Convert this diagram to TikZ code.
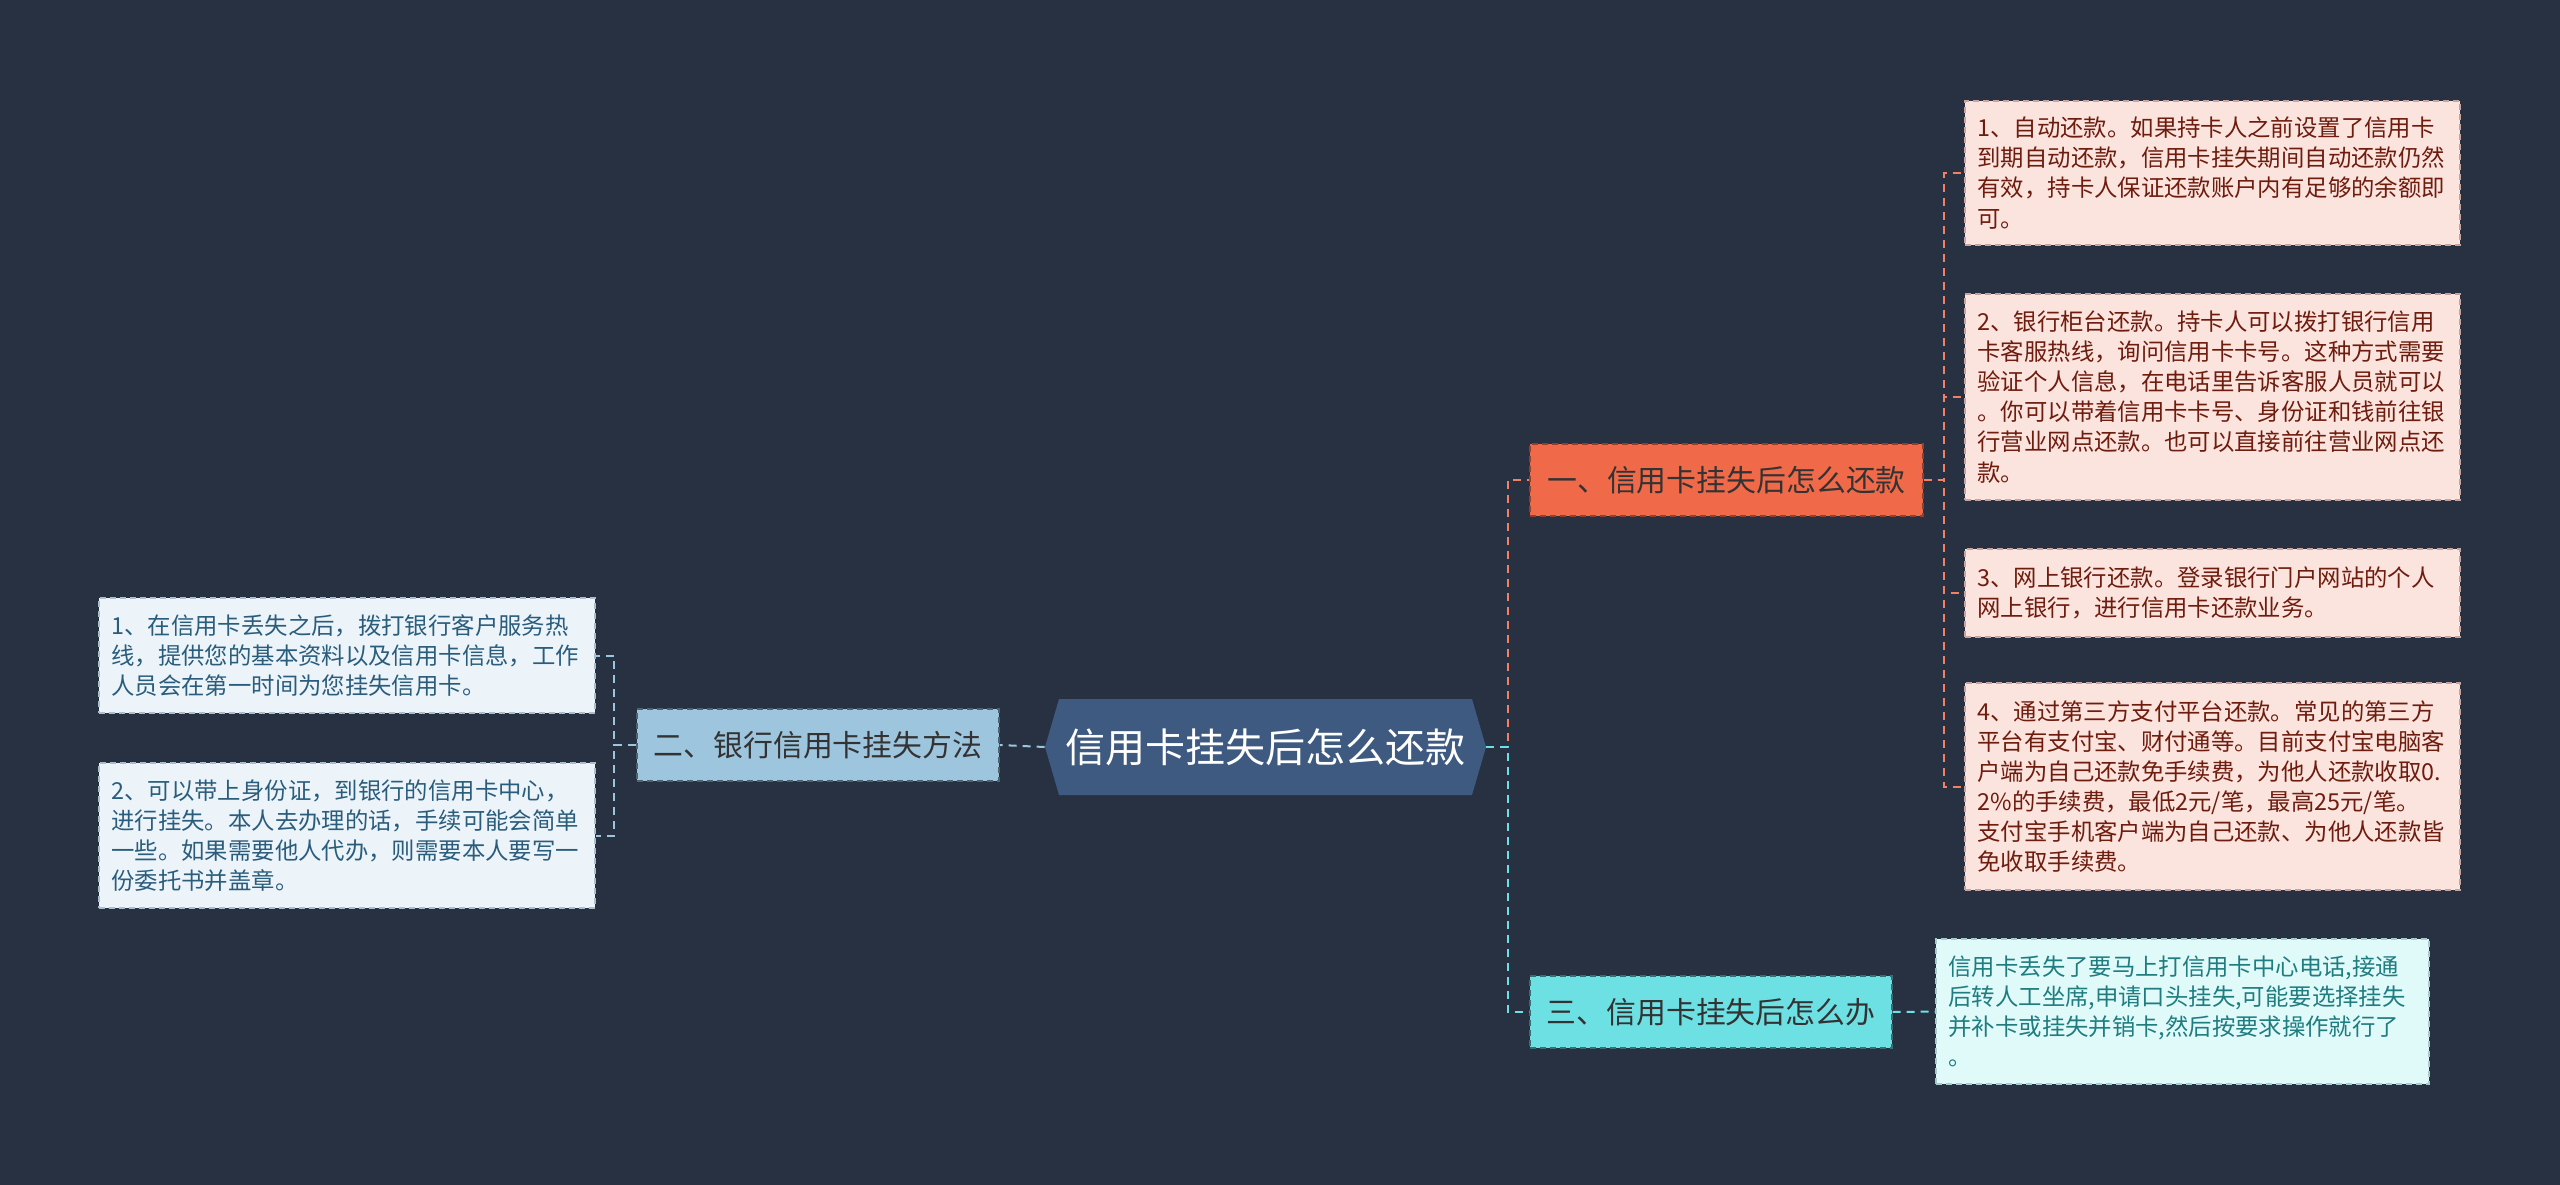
\documentclass[tikz,border=0pt]{standalone}
\usepackage{fontspec}
\setmainfont{Noto Sans CJK SC}
\usetikzlibrary{positioning}
\definecolor{bgcol}{RGB}{40,49,66}
\definecolor{hubcol}{RGB}{62,90,128}
\definecolor{paycol}{RGB}{240,106,74}
\definecolor{lostcol}{RGB}{158,197,222}
\definecolor{whatcol}{RGB}{109,224,228}
\definecolor{payleaf}{RGB}{252,228,222}
\definecolor{lostleaf}{RGB}{236,244,250}
\definecolor{whatleaf}{RGB}{224,250,250}
\definecolor{paytext}{RGB}{110,28,14}
\definecolor{losttext}{RGB}{42,93,124}
\definecolor{whattext}{RGB}{31,125,128}
\newcommand\leaffont{\fontsize{13.3}{17.1}\selectfont}
\newcommand\branchfont{\fontsize{17}{20}\selectfont}
\newcommand\hubfont{\fontsize{22.8}{26}\selectfont}

\begin{document}
\begin{tikzpicture}[x=0.2mm,y=-0.2mm,
  box/.style={draw=#1,line width=0.25mm,dash pattern=on 1.2mm off 0.8mm,inner sep=0pt},
  leaf/.style={box=#1,align=left,inner xsep=2.5mm,font=\leaffont},
  branch/.style={box=#1,minimum height=14.4mm,font=\branchfont},
  link/.style={draw=#1,line width=0.4mm,dash pattern=on 1.6mm off 1.2mm}]
\fill[bgcol] (0,0) rectangle (2560,1185);
\useasboundingbox (0,0) rectangle (2560,1185);

% centre
\fill[hubcol] (1045,747) -- (1059,699) -- (1472,699) -- (1486,747) -- (1472,795) -- (1059,795) -- cycle;
\node[font=\hubfont,text=white,minimum width=88.2mm,minimum height=19.2mm] (hub) at (1265.5,747) {信用卡挂失后怎么还款};

% branches
\node[branch=paycol!60!black,fill=paycol,text=black!80,minimum width=78.6mm] (pay) at (1726.5,480) {一、信用卡挂失后怎么还款};
\node[branch=lostcol!50!black,fill=lostcol,text=black!80,minimum width=72.4mm] (lost) at (818,745) {二、银行信用卡挂失方法};
\node[branch=whatcol!50!black,fill=whatcol,text=black!80,minimum width=72.4mm] (what) at (1711,1012) {三、信用卡挂失后怎么办};

% leaves of pay
\node[leaf=paytext!40,fill=payleaf,text=paytext,text width=94mm,minimum height=28.8mm] (pay1) at (2212.5,173)
  {1、自动还款。如果持卡人之前设置了信用卡\\到期自动还款，信用卡挂失期间自动还款仍然\\有效，持卡人保证还款账户内有足够的余额即\\可。};
\node[leaf=paytext!40,fill=payleaf,text=paytext,text width=94mm,minimum height=41.2mm] (pay2) at (2212.5,397)
  {2、银行柜台还款。持卡人可以拨打银行信用\\卡客服热线，询问信用卡卡号。这种方式需要\\验证个人信息，在电话里告诉客服人员就可以\\。你可以带着信用卡卡号、身份证和钱前往银\\行营业网点还款。也可以直接前往营业网点还\\款。};
\node[leaf=paytext!40,fill=payleaf,text=paytext,text width=94mm,minimum height=17.6mm] (pay3) at (2212.5,593)
  {3、网上银行还款。登录银行门户网站的个人\\网上银行，进行信用卡还款业务。};
\node[leaf=paytext!40,fill=payleaf,text=paytext,text width=94mm,minimum height=41.4mm] (pay4) at (2212.5,786.5)
  {4、通过第三方支付平台还款。常见的第三方\\平台有支付宝、财付通等。目前支付宝电脑客\\户端为自己还款免手续费，为他人还款收取0.\\2\%的手续费，最低2元/笔，最高25元/笔。\\支付宝手机客户端为自己还款、为他人还款皆\\免收取手续费。};

% leaves of lost
\node[leaf=losttext!40,fill=lostleaf,text=losttext,text width=94.2mm,minimum height=23mm] (lost1) at (347,655.5)
  {1、在信用卡丢失之后，拨打银行客户服务热\\线，提供您的基本资料以及信用卡信息，工作\\人员会在第一时间为您挂失信用卡。};
\node[leaf=losttext!40,fill=lostleaf,text=losttext,text width=94.2mm,minimum height=29mm] (lost2) at (347,835.5)
  {2、可以带上身份证，到银行的信用卡中心，\\进行挂失。本人去办理的话，手续可能会简单\\一些。如果需要他人代办，则需要本人要写一\\份委托书并盖章。};

% leaf of what
\node[leaf=whattext!40,fill=whatleaf,text=whattext,text width=93.6mm,minimum height=29mm] (what1) at (2182.5,1011.5)
  {信用卡丢失了要马上打信用卡中心电话,接通\\后转人工坐席,申请口头挂失,可能要选择挂失\\并补卡或挂失并销卡,然后按要求操作就行了\\。};

% connectors
\draw[link=paycol!85] (hub.east) -- ++(22,0) |- (pay.west);
\draw[link=whatcol] (hub.east) -- ++(22,0) |- (what.west);
\foreach \n in {pay1,pay2,pay3,pay4}
  \draw[link=paycol!85] (pay.east) -- ++(20,0) |- (\n.west);
\draw[link=lostcol] (hub.west) -- (lost.east);
\foreach \n in {lost1,lost2}
  \draw[link=lostcol] (lost.west) -- ++(-22,0) |- (\n.east);
\draw[link=whatcol] (what.east) -- (what1.west);
\end{tikzpicture}
\end{document}
